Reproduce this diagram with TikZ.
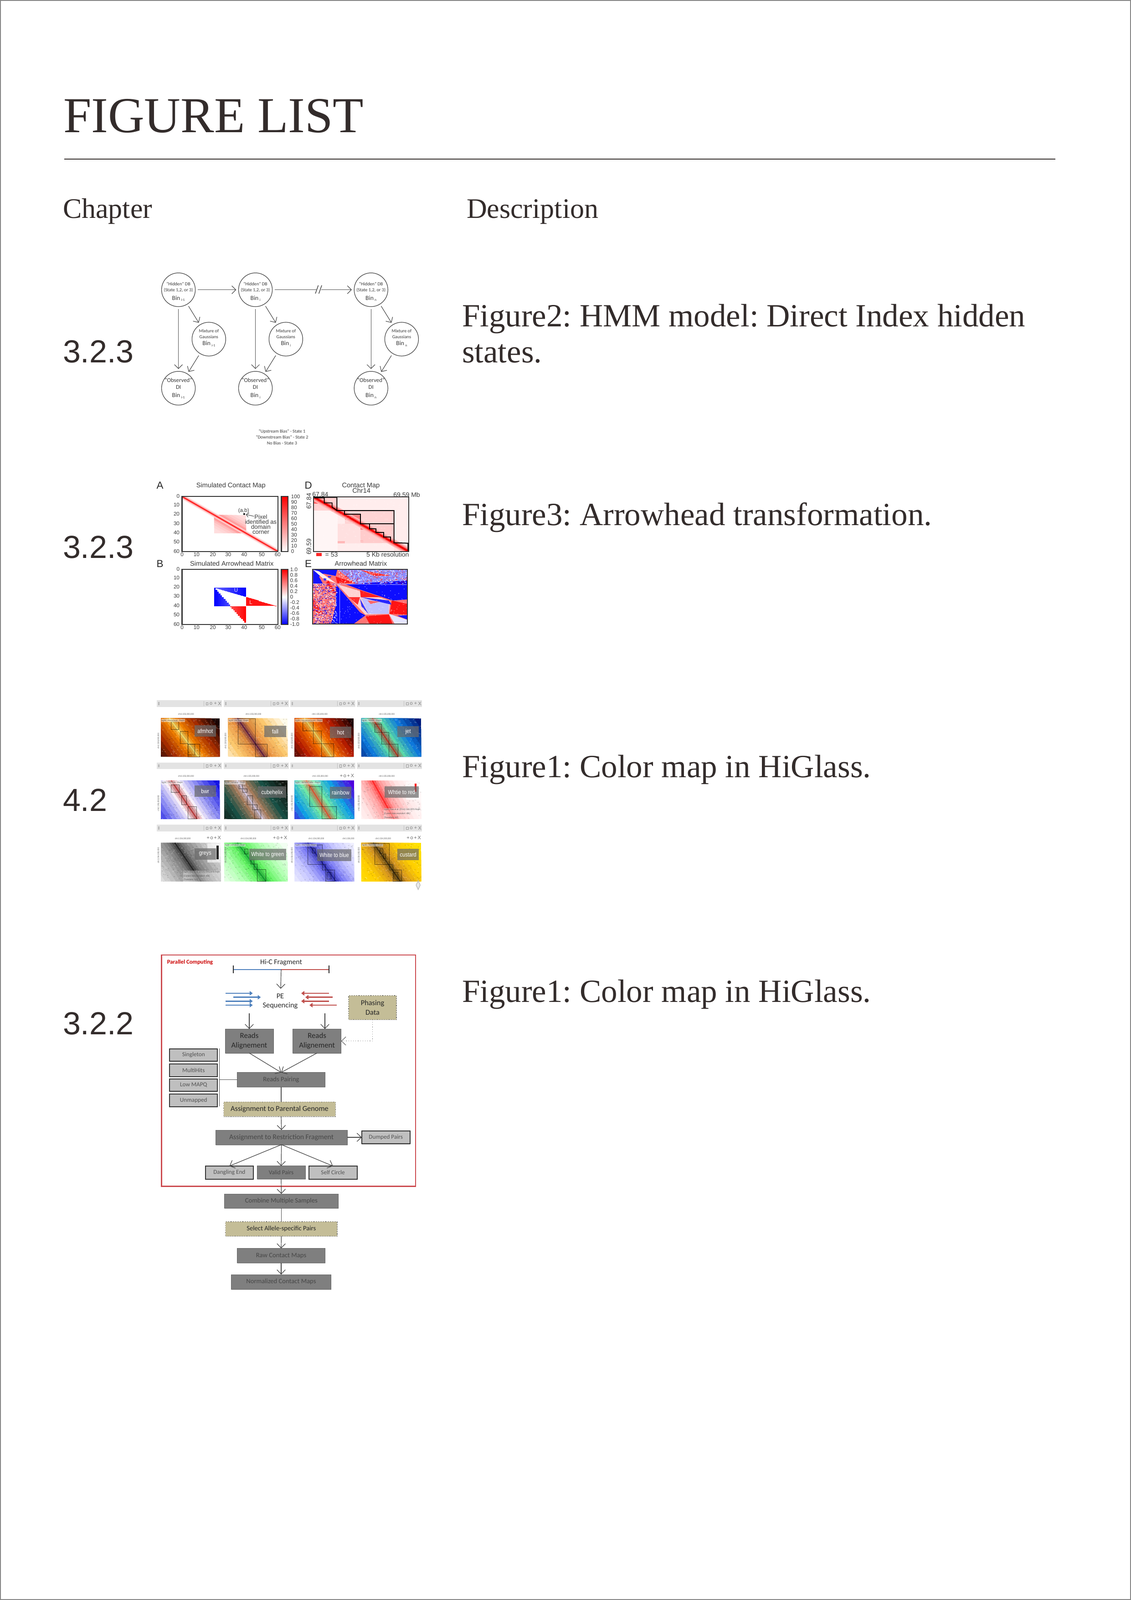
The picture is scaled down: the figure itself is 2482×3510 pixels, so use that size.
\documentclass[tikz,border=0pt]{standalone}
\usepackage{fontspec}
\usepackage{graphicx}
\setmainfont{Liberation Serif}
\newfontfamily\arial{Liberation Sans}
\newfontfamily\carl{Carlito}
\usetikzlibrary{arrows.meta,shadows,calc,shapes.geometric}
\definecolor{inkc}{HTML}{332C2B}
\definecolor{boxd}{HTML}{7F7F7F}
\definecolor{boxl}{HTML}{BFBFBF}
\definecolor{khaki}{HTML}{C4BD97}
\definecolor{redbox}{HTML}{CC4B50}
\definecolor{flowblue}{HTML}{4F81BD}
\definecolor{flowred}{HTML}{C0504D}
\definecolor{hfar}{HTML}{000000}
\definecolor{hmid}{HTML}{000000}
\definecolor{hnear}{HTML}{000000}
\definecolor{hdiag}{HTML}{000000}
\newcommand\myfs[2]{\fontsize{#1}{#2}\selectfont}
\newcommand\sbs[1]{\raisebox{-0.7pt}{\myfs{1.9}{2}#1}}
\newcommand\cnd[1]{\scalebox{.85}[1]{#1}}
\frenchspacing
\tikzset{
  pagetext/.style={anchor=base west,text=inkc,inner sep=0pt,outer sep=0pt},
  hcirc/.style={circle,draw=black!75,line width=.3pt,minimum size=18.5pt,inner sep=0pt,outer sep=1.3pt},
  htxt/.style={align=center,inner sep=0pt,text=black!78,font=\carl\myfs{2.55}{3.25}},
  harrow/.style={draw=black!70,line width=.3pt,-{Straight Barb[length=2.2pt,width=4.4pt]}},
  tick/.style={inner sep=0pt,text=black!78,font=\arial\myfs{2.9}{3.4}},
  dtick/.style={inner sep=0pt,text=black!78,font=\arial\myfs{3.5}{3.8}},
  ptitle/.style={inner sep=0pt,text=black!78,font=\arial\myfs{3.65}{4.2}},
  pletter/.style={inner sep=0pt,text=black!85,font=\arial\myfs{5.6}{6}},
  pframe/.style={draw=black!80,line width=.55pt},
  cmlab/.style={fill=black!58,fill opacity=.72,text opacity=1,text=white,inner sep=0pt,font=\arial\myfs{3.25}{3.7}},
  tiny/.style={inner sep=.2pt,text=black!65,font=\arial\myfs{1.3}{1.6}},
  fbase/.style={inner sep=0pt,outer sep=0pt,align=center,font=\carl\myfs{3.3}{5.1}},
  fdark/.style={fbase,fill=boxd,draw=black!60,line width=.25pt,text=black!72,drop shadow={shadow xshift=.15pt,shadow yshift=-.4pt,opacity=.35}},
  flight/.style={fbase,fill=boxl,draw=black!80,line width=.5pt,text=black!68,drop shadow={shadow xshift=.15pt,shadow yshift=-.4pt,opacity=.35}},
  fkhaki/.style={fbase,fill=khaki,draw=black!65,line width=.3pt,densely dotted,text=black!85,drop shadow={shadow xshift=.15pt,shadow yshift=-.4pt,opacity=.35}},
  farrow/.style={draw=black!75,line width=.3pt,-{Straight Barb[length=2.4pt,width=4.6pt]}},
  fline/.style={draw=black!70,line width=.3pt},
  fragb/.style={draw=flowblue,line width=.65pt,-{Triangle[length=1.7pt,width=2.4pt]}},
  fragr/.style={draw=flowred,line width=.65pt,-{Triangle[length=1.7pt,width=2.4pt]}},
}
% random speckle: x0 y0 x1 y1 count colour opacity w h
\newcommand\nz[9]{%
  \foreach \k in {1,...,#5}{
    \pgfmathsetmacro\nx{#1+rnd*(#3-#1)}
    \pgfmathsetmacro\ny{#2+rnd*(#4-#2)}
    \fill[#6,opacity=#7] (\nx,\ny) rectangle ++(#8,#9);}}
% HMM group of three circles
\newcommand\hmmcol[4]{%
  \node[hcirc] (h#1) at (#2,197) {};
  \node[htxt,yshift=-1.1pt] (ht#1) at (h#1) {“Hidden” DB\\(State 1,2, or 3)\\[1.4pt]{\myfs{3.4}{4}Bin\,\sbs{#4}}};
  \node[hcirc] (m#1) at (#3,522) {};
  \node[htxt,yshift=.6pt] (mt#1) at (m#1) {Mixture of\\Gaussians\\[.6pt]{\myfs{3.4}{4}Bin\,\sbs{#4}}};
  \node[hcirc] (o#1) at (#2,845) {};
  \node[htxt,font=\carl\myfs{3.2}{3.9}] (ot#1) at (o#1) {“Observed”\\DI\\[.6pt]{\myfs{3.4}{4}Bin\,\sbs{#4}}};
  \draw[harrow] (h#1) -- (o#1);
  \draw[harrow] (h#1) -- (m#1);
  \draw[harrow] (m#1) -- (o#1);
}
% colormap toolbar
\newcommand\tbar[3]{%
  \fill[black!11] (#1,#2) rectangle ++(360,44);
  \fill[black!28] (#1+8,#2+12) rectangle ++(7,20);
  \draw[black!25,line width=.15pt] (#1+260,#2+5) -- ++(0,34);
  \draw[black!40,line width=.25pt] (#1+273,#2+15) rectangle ++(11,16);
  \node[inner sep=0pt,text=black!50,font=\arial\myfs{2.7}{3}] (tb#3a) at (#1+300,#2+22) {o};
  \node[inner sep=0pt,text=black!50,font=\arial\myfs{2.7}{3}] (tb#3b) at (#1+324,#2+22) {+};
  \node[inner sep=0pt,text=black!50,font=\arial\myfs{2.7}{3}] (tb#3c) at (#1+347,#2+22) {X};
}
\newcommand\hmcol[4]{%
  \definecolor{hfar}{HTML}{#1}\definecolor{hmid}{HTML}{#2}\definecolor{hnear}{HTML}{#3}\definecolor{hdiag}{HTML}{#4}}
% x0 y0 x1 y1 xtop xbot
\newcommand\hm[6]{%
  \begin{scope}
  \clip (#1,#2) rectangle (#3,#4);
  \fill[hfar] (#1,#2) rectangle (#3,#4);
  \foreach \w/\cc in {230/hmid!25!hfar,197/hmid!50!hfar,166/hmid!75!hfar,138/hmid,112/hnear!25!hmid,88/hnear!50!hmid,66/hnear!75!hmid,46/hnear,30/hdiag!25!hnear,17/hdiag!50!hnear}{
    \fill[\cc] (#5-\w,#2) -- (#5+\w,#2) -- (#6+\w,#4) -- (#6-\w,#4) -- cycle;}
  \nz{#1}{#2}{#3}{#4}{130}{white}{.17}{7}{6}
  \nz{#1}{#2}{#3}{#4}{110}{black}{.10}{7}{6}
  \draw[hdiag,line width=.62pt,opacity=.9] (#5,#2) -- (#6,#4);
  \end{scope}}
\newcommand\dom[1]{%
  \foreach \a/\b/\c/\d in {#1}{
    \draw[black,line width=.2pt,draw opacity=.55,fill=black,fill opacity=.06] (\a,\b) rectangle (\c,\d);}}
\begin{document}
\begin{tikzpicture}[x=0.25pt,y=-0.25pt]
\useasboundingbox (0,0) rectangle (2482,3510);
\fill[white] (0,0) rectangle (2482,3510);
\draw[black!48,line width=.5pt] (1,1) rectangle (2481,3509);

% ---------- page text
\node[pagetext,font=\myfs{27.6}{30}] (title) at (139,291) {FIGURE LIST};
\coordinate (ruleL) at (141,349);
\coordinate (ruleR) at (2316,349);
\draw[inkc,line width=.55pt] (ruleL) -- (ruleR);
\node[pagetext,font=\myfs{15.5}{18}] (chap) at (138,479) {Chapter};
\node[pagetext,font=\myfs{15.5}{18}] (desc) at (1024,479) {Description};
\node[pagetext,font=\arial\myfs{17.5}{20}] (c1) at (138,795) {3.2.3};
\node[pagetext,font=\arial\myfs{17.5}{20}] (c2) at (138,1224) {3.2.3};
\node[pagetext,font=\arial\myfs{17.5}{20}] (c3) at (138,1779) {4.2};
\node[pagetext,font=\arial\myfs{17.5}{20}] (c4) at (138,2269) {3.2.2};
\node[pagetext,font=\myfs{17.75}{20}] (d1a) at (1014,716) {Figure2: HMM model: Direct Index hidden};
\node[pagetext,font=\myfs{17.75}{20}] (d1b) at (1014,795) {states.};
\node[pagetext,font=\myfs{17.75}{20}] (d2) at (1014,1152) {Figure3: Arrowhead transformation.};
\node[pagetext,font=\myfs{17.75}{20}] (d3) at (1014,1705) {Figure1: Color map in HiGlass.};
\node[pagetext,font=\myfs{17.75}{20}] (d4) at (1014,2198) {Figure1: Color map in HiGlass.};

% ---------- HMM figure
\begin{scope}[shift={(320,570)},x=0.0994pt,y=-0.08333pt]
  \hmmcol{1}{180}{348}{i-1}
  \hmmcol{2}{605}{773}{i}
  \hmmcol{3}{1243}{1412}{n}
  \draw[harrow] (h1) -- (h2);
  \coordinate (brk1) at (940,197);
  \coordinate (brk2) at (968,197);
  \draw[draw=black!70,line width=.3pt] (h2) -- (brk1);
  \draw[harrow] (brk2) -- (h3);
  \draw[draw=black!75,line width=.35pt] (936,222) -- (952,168);
  \draw[draw=black!75,line width=.35pt] (955,222) -- (971,168);
  \node[htxt,font=\carl\myfs{2.5}{3.25}] (hcap) at (752,1168) {“Upstream Bias” - State 1\\“Downstream Bias” - State 2\\No Bias - State 3};
\end{scope}

% ---------- Arrowhead figure
\begin{scope}[shift={(320,1040)},x=0.0994pt,y=-0.08333pt]
  \node[pletter] (la) at (78,73) {A};
  \node[pletter] (lb) at (78,590) {B};
  \node[pletter] (ld) at (897,73) {D};
  \node[pletter] (le) at (897,590) {E};
  \node[ptitle] (ta) at (470,77) {Simulated Contact Map};
  \node[ptitle] (tb) at (475,590) {Simulated Arrowhead Matrix};
  \node[ptitle] (td) at (1187,77) {Contact Map};
  \node[ptitle] (td2) at (1190,110) {Chr14};
  \node[ptitle] (te) at (1187,590) {Arrowhead Matrix};
  % panel A
  \begin{scope}[shift={(200,148)},x=0.878pt,y=-0.5028pt]
    \clip (0,0) rectangle (60,60);
    \fill[red!13!white] (20,20) rectangle (40,40);
    \foreach \w/\p in {14/16,11/20,8/26,5.5/36,3.5/50}{
      \fill[red!\p!white] (20,20) -- (20+\w,20) -- (40,40-\w) -- (40,40) -- (40-\w,40) -- (20,20+\w) -- cycle;}
    \foreach \w/\p in {3/12,2/28,1.2/50}{
      \fill[red!\p!white,opacity=.85] (0,0) -- (\w,0) -- (60,60-\w) -- (60,60) -- (60-\w,60) -- (0,\w) -- cycle;}
    \draw[red!90!white,line width=.5pt] (0,0) -- (60,60);
  \end{scope}
  \draw[pframe] (200,148) rectangle (730,510);
  \foreach \v/\px in {0/200,10/280,20/370,30/455,40/543,50/640,60/728}{
    \node[tick] (ax\v) at (\px,531) {\v};
    \node[tick] (bx\v) at (\px,1010) {\v};}
  \foreach \v/\py in {0/147,10/203,20/263,30/325,40/387,50/447,60/510}{
    \node[tick,anchor=east] (ay\v) at (188,\py) {\v};
    \node[tick,anchor=east] (by\v) at (188,\py+479) {\v};}
  \shade[bottom color=white,top color=red] (748,148) rectangle (785,510);
  \draw[pframe] (748,148) rectangle (785,510);
  \foreach \v [count=\i from 0] in {100,90,80,70,60,50,40,30,20,10,0}{
    \pgfmathsetmacro\py{150+36*\i}
    \node[tick,anchor=west] (al\i) at (800,\py) {\v};}
  \node[tick] (abtxt) at (540,242) {(a,b)};
  \node[circle,fill=black,inner sep=0pt,minimum size=1pt,outer sep=.4pt] (abdot) at (543,263) {};
  \node[tick,align=center,font=\arial\myfs{3.25}{2.75}] (pix) at (635,330) {Pixel\\identified as\\domain\\corner};
  \coordinate (pixa) at (597,278);
  \draw[draw=black!75,line width=.25pt,-{Straight Barb[length=1.4pt,width=2.4pt]}] (pixa) -- (abdot);
  % panel B
  \begin{scope}[shift={(200,628)},x=0.878pt,y=-0.5028pt]
    \foreach \i in {20,...,39}{
      \pgfmathtruncatemacro\p{60+2*(\i-20)}
      \fill[blue!\p!white] (\i,19.5) rectangle (\i+1.05,{19.5+(\i-19)/2});}
    \foreach \i in {20,...,29}{
      \pgfmathtruncatemacro\p{100-3*(\i-20)}
      \fill[blue!\p!white] (\i,{20+2*(\i-20)}) rectangle (\i+1.05,40);}
    \foreach \i in {30,...,39}{
      \pgfmathtruncatemacro\p{70+3*(\i-30)}
      \fill[red!\p!white] (\i,40) rectangle (\i+1.05,{40+1.9*(\i-29.5)});}
    \foreach \i in {40,...,58}{
      \fill[red!92!white] (\i,{30+(\i-40)*0.55}) rectangle (\i+1.05,39.6);}
  \end{scope}
  \draw[pframe] (200,628) rectangle (730,990);
  \node[inner sep=0pt,text=white!85!blue,font=\arial\myfs{2.9}{3}] (uu) at (498,763) {U};
  \node[inner sep=0pt,text=white!85!red,font=\arial\myfs{2.9}{3}] (ll) at (580,845) {L};
  \shade[top color=red,bottom color=blue,middle color=white] (748,628) rectangle (785,990);
  \draw[pframe] (748,628) rectangle (785,990);
  \foreach \v [count=\i from 0] in {1.0,0.8,0.6,0.4,0.2,0,-0.2,-0.4,-0.6,-0.8,-1.0}{
    \pgfmathsetmacro\py{630+36*\i}
    \node[tick,anchor=west] (bl\i) at (795,\py) {\v};}
  % panel D
  \begin{scope}
    \clip (925,150) rectangle (1452,510);
    \fill[red!7!white] (925,150) rectangle (1452,510);
    \fill[red!18!white] (925,150) rectangle (1055,240);
    \fill[red!4!white] (925,240) rectangle (1060,510);
    \fill[red!17!white] (1098,240) rectangle (1370,328);
    \fill[red!12!white] (1060,328) rectangle (1370,455);
    \fill[red!20!white] (1185,328) rectangle (1370,452);
    \fill[red!12!white] (1370,452) rectangle (1452,510);
    \fill[red!28!white] (1060,440) rectangle (1100,456);
    \fill[red!26!white] (1185,435) rectangle (1200,450);
    \fill[red!60!white] (925,155) rectangle (985,195);
    \fill[red!52!white] (985,192) rectangle (1030,218);
    \fill[red!50!white] (1098,265) rectangle (1185,300);
    \fill[red!50!white] (1185,328) rectangle (1235,365);
    \foreach \w/\p in {38/28,26/45,16/68,9/90}{
      \fill[red!\p!white] (925,150) -- (925+\w,150) -- (1452,510-\w*.7) -- (1452,510) -- (1452-\w,510) -- (925,150+\w*.7) -- cycle;}
    \draw[red!95!black,line width=.8pt] (925,150) -- (1452,510);
    \nz{925}{150}{1452}{510}{160}{white}{.18}{7}{6}
  \end{scope}
  \draw[black,line width=.45pt] (930,157) -- (985,157) -- (985,190) -- (1028,190) -- (1028,217) -- (1055,240);
  \draw[black,line width=.5pt] (925,153) -- (1055,153) -- (1055,240) -- (1370,240) -- (1370,452) -- (1447,455) -- (1447,505);
  \draw[black,line width=.45pt] (1097,240) -- (1097,265) -- (1185,265) -- (1185,328) -- (1235,328) -- (1235,360) -- (1270,360) -- (1270,385) -- (1312,385) -- (1312,415) -- (1350,415) -- (1350,440);
  \draw[black,line width=.45pt] (1185,328) -- (1370,328);
  \draw[pframe] (925,150) rectangle (1452,510);
  \node[dtick] (dtl) at (963,135) {67.84};
  \node[dtick] (dtr) at (1440,135) {69.59 Mb};
  \node[dtick,rotate=90] (dl1) at (900,178) {67.84};
  \node[dtick,rotate=90] (dl2) at (900,478) {69.59};
  \fill[red!85!white] (940,520) rectangle (970,541);
  \node[dtick] (d53) at (1025,531) {= 53};
  \node[dtick] (dres) at (1335,530) {5 Kb resolution};
\end{scope}

% panel E (own crop coordinates)
\begin{scope}[shift={(680,1230)},x=0.08333pt,y=-0.08333pt]
  \begin{scope}
    \clip (17,58) rectangle (643,418);
    \fill[white!45!red] (17,58) rectangle (643,418);
    \fill[white!55!blue] (185,58) -- (643,58) -- (643,150) -- (300,150) -- cycle;
    \fill[red!75!white] (330,60) -- (540,100) -- (420,100) -- cycle;
    \fill[blue!92!white] (22,60) -- (180,60) -- (170,100) -- (90,85) -- (60,105) -- (85,150) -- (22,150) -- cycle;
    \fill[white!92!red] (22,60) -- (60,70) -- (175,150) -- (90,120) -- cycle;
    \fill[red!80!white] (22,250) -- (90,355) -- (22,330) -- cycle;
    \fill[blue!95!white] (235,155) -- (643,130) -- (643,255) -- (545,262) -- (330,190) -- cycle;
    \fill[blue!95!white] (175,160) -- (330,340) -- (365,360) -- (285,418) -- (140,418) -- (170,300) -- cycle;
    \fill[white!82!red] (180,155) -- (330,200) -- (530,265) -- (520,350) -- (365,355) -- cycle;
    \fill[white!75!blue] (340,250) -- (520,270) -- (520,350) -- (385,350) -- cycle;
    \fill[red!90!white] (170,105) -- (300,145) -- (180,148) -- cycle;
    \fill[red!90!white] (105,150) -- (122,130) -- (175,215) -- (160,218) -- cycle;
    \fill[blue!80!white] (90,115) -- (108,118) -- (105,132) -- (92,130) -- cycle;
    \fill[blue!80!white] (118,100) -- (142,102) -- (135,112) -- (120,110) -- cycle;
    \fill[red!88!white] (330,195) -- (470,240) -- (335,240) -- cycle;
    \fill[red!82!white] (255,240) -- (330,240) -- (315,290) -- cycle;
    \fill[blue!85!white] (335,240) -- (520,262) -- (540,290) -- (380,252) -- cycle;
    \fill[blue!80!white] (330,250) -- (385,350) -- (340,300) -- cycle;
    \fill[red!60!white] (380,262) -- (460,270) -- (400,285) -- cycle;
    \fill[red!92!white] (540,262) -- (643,285) -- (643,355) -- (525,350) -- cycle;
    \fill[red!92!white] (365,365) -- (520,355) -- (545,418) -- (395,418) -- cycle;
    \fill[white!90!blue] (520,350) -- (643,390) -- (643,418) -- (560,418) -- cycle;
    \fill[blue!92!white] (575,362) -- (643,358) -- (643,388) -- cycle;
    \nz{17}{150}{175}{418}{300}{blue}{.5}{7}{6}
    \nz{17}{150}{175}{418}{300}{white}{.55}{7}{6}
    \nz{185}{58}{643}{150}{260}{white}{.5}{7}{6}
    \nz{185}{58}{643}{150}{180}{red}{.4}{7}{6}
    \nz{175}{155}{640}{418}{120}{white}{.3}{6}{5}
    \draw[white!70!blue,line width=.25pt] (195,150) -- (195,418);
    \draw[white!70!blue,line width=.2pt] (22,152) -- (640,158);
  \end{scope}
  \draw[pframe] (17,58) rectangle (643,418);
\end{scope}

% ---------- colour maps
\begin{scope}[shift={(330,1520)},x=0.0994pt,y=-0.08333pt]
  \pgfmathsetseed{17}
  \foreach \r/\yy in {1/48,2/458,3/868}{
    \foreach \c/\xx in {1/35,2/404,3/771,4/1140}{
      \tbar{\xx}{\yy}{\r\c}}}
  \hmcol{1A0300}{A42C00}{EE7E00}{F6EE80}
  \hm{58}{167}{383}{420}{105}{265}
  \dom{115/190/158/242,165/253/207/333,208/337/272/420,208/337/245/410}
  \hmcol{FFFBEA}{FBC86E}{E89040}{5C1C48}
  \hm{428}{167}{758}{420}{480}{630}
  \dom{483/168/580/337,580/337/645/420}
  \hmcol{200000}{B41C00}{F26E00}{EFE070}
  \hm{796}{167}{1122}{420}{850}{1000}
  \dom{840/190/900/250,900/250/943/333,943/333/1012/420}
  \hmcol{001C7C}{0E78DA}{58D8A8}{C03020}
  \hm{1164}{167}{1495}{420}{1225}{1368}
  \dom{1238/205/1276/258,1276/258/1316/337,1316/337/1366/420}
  \hmcol{1414E4}{8A8AF2}{F8F0F8}{C03434}
  \hm{58}{577}{383}{830}{115}{258}
  \dom{115/605/160/655,172/675/200/735,208/747/255/830}
  \hmcol{101610}{184F44}{A67C5C}{D8D0F0}
  \hm{408}{577}{758}{830}{478}{620}
  \dom{490/600/510/630,510/630/535/655,533/675/565/735,565/735/590/770,575/770/610/830}
  \hmcol{5000E0}{10A0E4}{70E8A4}{F05030}
  \hm{796}{577}{1125}{830}{860}{995}
  \dom{880/615/947/747,947/747/1028/830}
  \hmcol{FFFFFF}{FFE4E4}{FF9C9C}{FF2020}
  \hm{1164}{577}{1495}{830}{1225}{1345}
  \hmcol{EAEAEA}{B4B4B4}{787878}{202020}
  \hm{58}{987}{388}{1241}{135}{280}
  \hmcol{F2FFF2}{B4FFB4}{62F262}{10A030}
  \hm{408}{987}{758}{1241}{480}{638}
  \dom{520/1027/540/1060,555/1100/572/1125,572/1125/590/1162,590/1162/637/1241}
  \hmcol{F0F0FF}{C4C4FF}{7474F2}{2020A0}
  \hm{796}{987}{1125}{1241}{868}{1025}
  \dom{868/1000/950/1128,895/1025/912/1055,950/1128/968/1165,968/1165/1018/1241,975/1180/998/1225}
  \hmcol{FFE200}{FFCE00}{D49420}{403010}
  \hm{1164}{987}{1495}{1241}{1230}{1380}
  \dom{1238/990/1318/1130,1265/1025/1283/1055,1285/1060/1300/1090,1318/1130/1338/1165,1338/1165/1386/1241,1345/1180/1367/1225}
  % legends
  \fill[white,opacity=.55] (1410,585) rectangle (1482,705);
  \fill[red] (1458,597) rectangle (1470,650);
  \fill[white,opacity=.6] (315,990) rectangle (388,1115);
  \fill[black!85] (365,1005) rectangle (377,1095);
  % panel tags
  \foreach \id/\px/\py/\txt in {
     t1/58/182/{hg38 | Arrowhead - RepH},
     t2/428/182/{hg38 | HiCSeg - RepH},
     t3/796/182/{hg38 | InsulationScore - RepH},
     t4/1164/182/{hg38 | TADBit - RepH},
     t5/58/592/{hg38 | TADTree - RepH},
     t6/408/592/{hg38 | armatus - RepH},
     t7/796/592/{hg38 | domainCaller - RepH},
     t8/408/1002/{hg38 | armatus - RepH},
     t9/796/1002/{hg38 | TADTree - RepH},
     t10/1164/1002/{hg38 | TADTree - RepH}}{
    \node[tiny,anchor=west,fill=white,fill opacity=.5,text opacity=1] (\id) at (\px,\py) {\cnd{\txt}};}
  \node[tiny,anchor=north west,align=left,fill=white,fill opacity=.4,text opacity=1,font=\arial\myfs{1.3}{2.2}] (rao1) at (1286,757) {\cnd{hg38 | Rao et al. (2014) GM12878 RepH}\\\cnd{{[}Current data resolution: 40k{]}}\\\cnd{{[}Transform: KR{]}}};
  \node[tiny,anchor=north west,align=left,fill=white,fill opacity=.4,text opacity=1,font=\arial\myfs{1.3}{2.2}] (rao2) at (180,1167) {\cnd{hg38 | Rao et al. (2014) GM12878 RepH}\\\cnd{{[}Current data resolution: 40k{]}}\\\cnd{{[}Transform: KR{]}}};
  % axis labels
  \foreach \id/\px/\py/\txt in {
     x1/197/140/{chr1:155,000,000},x2/569/140/{chr1:155,000,000},x3/935/140/{chr1:155,000,000},x4/1305/140/{chr1:155,000,000},
     x5/197/550/{chr1:155,000,000},x6/558/550/{chr1:155,000,000},x7/937/550/{chr1:155,000,000},x8/1305/550/{chr1:155,000,000},
     x9/179/960/{chr1:154,000,000},x10/541/960/{chr1:154,000,000},x11/916/960/{chr1:154,000,000},x12/1093/960/{chr1:156,000},x13/1285/960/{chr1:154,000,000}}{
    \node[tiny] (\id) at (\px,\py) {\cnd{\txt}};}
  \foreach \id/\px/\py/\txt in {
     y1/45/316/{chr1:155,000,000},y2/415/316/{chr1:155,000,000},y3/782/316/{chr1:155,000,000},y4/1151/316/{chr1:155,000,000},
     y5/45/726/{chr1:155,000,000},y6/415/726/{chr1:155,000,000},y7/782/726/{chr1:155,000,000},y8/1151/726/{chr1:155,000,000},
     y9/45/1070/{chr1:154,000,000},y10/415/1070/{chr1:154,000,000},y11/782/1070/{chr1:154,000,000},y12/1151/1070/{chr1:154,000,000}}{
    \node[tiny,rotate=90] (\id) at (\px,\py) {\cnd{\txt}};}
  % floating icon boxes
  \foreach \id/\px/\py in {f1/1045/525,f2/310/935,f3/676/935,f4/1414/935}{
    \fill[white] (\px,\py) rectangle ++(80,40);
    \node[inner sep=0pt,text=black!60,font=\arial\myfs{2.7}{3}] (\id) at (\px+40,\py+20) {+\,o\,+\,X};}
  % colour map names
  \foreach \id/\xa/\ya/\xb/\yb/\txt in {
     l1/243/213/362/288/afmhot,l2/630/217/749/292/fall,l3/990/222/1110/297/hot,l4/1364/218/1482/292/jet,
     l5/243/610/362/685/bwr,l6/594/615/749/690/cubehelix,l7/990/619/1110/695/rainbow,l8/1292/615/1482/690/{Whtie to red},
     l9/243/1022/362/1098/greys,l10/545/1026/749/1102/{White to green},l11/920/1030/1110/1106/{White to blue},l12/1364/1026/1482/1102/custard}{
    \pgfmathsetmacro\lw{(\xb-\xa)*0.0994}
    \pgfmathsetmacro\lh{(\yb-\ya)*0.08333}
    \node[cmlab,minimum width=\lw pt,minimum height=\lh pt] (\id) at ({(\xa+\xb)/2},{(\ya+\yb)/2}) {\cnd{\txt}};}
  \node[diamond,draw=black!25,fill=black!8,line width=.4pt,minimum width=2.4pt,minimum height=5pt,inner sep=0pt] (logo) at (1478,1265) {};
\end{scope}

% ---------- flow chart
\draw[redbox,line width=.7pt] (354.2,2095) rectangle (912,2602.3);
\node[inner sep=0pt,anchor=west,text=red!80!black,font=\carl\bfseries\myfs{3.2}{4}] (par) at (366,2110.7) {Parallel Computing};
\node[fbase,text=black!85,font=\carl\myfs{3.95}{4.5}] (hic) at (617,2111.7) {Hi-C Fragment};
\coordinate (fragL) at (512,2126.7);
\coordinate (fragM) at (617,2126.7);
\coordinate (fragR) at (722,2126.7);
\draw[flowblue,line width=.6pt] (fragL) -- (fragM);
\draw[flowred,line width=.6pt] (fragM) -- (fragR);
\draw[black!85,line width=.35pt] (512,2118) -- (512,2135);
\draw[black!85,line width=.35pt] (722,2118) -- (722,2135);
\coordinate (peTop) at (616,2169);
\draw[farrow] (fragM) -- (peTop);
\foreach \ya/\xa/\xb [count=\i] in {2179/494.6/554.6,2187.7/512.3/572.3,2196.3/494.6/554.6,2205/494.6/554.6}{
  \coordinate (ba\i) at (\xa,\ya); \coordinate (bb\i) at (\xb,\ya);
  \draw[fragb] (ba\i) -- (bb\i);}
\foreach \ya/\xa/\xb [count=\i] in {2179/722/661,2187.7/730/670,2196.3/722/661,2205/739/679}{
  \coordinate (ra\i) at (\xa,\ya); \coordinate (rb\i) at (\xb,\ya);
  \draw[fragr] (ra\i) -- (rb\i);}
\node[fbase,text=black!85,font=\carl\myfs{4.1}{5.15}] (pe) at (615,2196.5) {PE\\Sequencing};
\node[fkhaki,minimum width=26.25pt,minimum height=13.2pt,font=\carl\myfs{4.1}{5.15}] (phase) at (817.5,2210.3) {Phasing\\Data};
\node[fdark,minimum width=26.5pt,minimum height=13.2pt,text=black!85,font=\carl\myfs{4.2}{5.15}] (raL) at (547,2283.7) {Reads\\Alignement};
\node[fdark,minimum width=26.5pt,minimum height=13.2pt,text=black!85,font=\carl\myfs{4.2}{5.15}] (raR) at (695.6,2283.7) {Reads\\Alignement};
\coordinate (seqL) at (547,2222.7);
\coordinate (seqR) at (713,2222.7);
\draw[farrow] (seqL) -- (raL.north);
\draw[farrow] (seqR) -- (seqR |- raR.north);
\draw[farrow,densely dotted,draw=black!60] (phase.south) |- (raR.east);
\node[fdark,minimum width=48.1pt,minimum height=8pt,font=\carl\myfs{3.65}{4.5}] (rp) at (617,2368.7) {Reads Pairing};
\draw[farrow] (raL.south) -- (rp.north);
\draw[farrow] (raR.south) -- (rp.north);
\foreach \id/\yy/\txt in {sg/2314.5/Singleton,mh/2347.8/MultiHits,lm/2380.5/Low MAPQ,um/2413.8/Unmapped}{
  \node[flight,minimum width=26.25pt,minimum height=6.9pt] (\id) at (424.8,\yy) {\txt};}
\coordinate (brTop) at (481.5,2300);
\coordinate (brBot) at (481.5,2426.7);
\coordinate (brMid) at (481.5,2368.7);
\draw[fline] (brTop) -- (brBot);
\draw[fline] (brMid) -- (rp.west);
\node[fkhaki,minimum width=61.35pt,minimum height=7.95pt,font=\carl\myfs{4.1}{5}] (apg) at (613.5,2433.2) {Assignment to Parental Genome};
\node[fdark,minimum width=72.3pt,minimum height=8pt,font=\carl\myfs{3.95}{5}] (arf) at (617.6,2495) {Assignment to Restriction Fragment};
\node[flight,minimum width=26.45pt,minimum height=7pt] (dp) at (846.7,2495) {Dumped Pairs};
\draw[fline] (rp.south) -- (rp.south |- apg.north);
\draw[farrow] (rp.south |- apg.south) -- (arf.north);
\draw[farrow] (arf.east) -- (dp.west);
\node[flight,minimum width=26.3pt,minimum height=7.17pt] (de) at (503.4,2572.3) {Dangling End};
\node[fdark,minimum width=26.5pt,minimum height=7.17pt] (vp) at (617,2572.3) {Valid Pairs};
\node[flight,minimum width=26.45pt,minimum height=7.17pt] (sc) at (730.6,2572.3) {Self Circle};
\draw[farrow] (arf.south) -- (de.north);
\draw[farrow] (arf.south) -- (vp.north);
\draw[farrow] (arf.south) -- (sc.north);
\node[fdark,minimum width=62.5pt,minimum height=7.95pt,font=\carl\myfs{3.65}{4.5}] (cms) at (617.3,2634.9) {Combine Multiple Samples};
\draw[farrow] (vp.south) -- (cms.north);
\node[fkhaki,minimum width=61.35pt,minimum height=7.95pt,font=\carl\myfs{3.65}{4.5}] (sel) at (617.3,2695.9) {Select Allele-specific Pairs};
\draw[fline] (cms.south) -- (sel.north);
\node[fdark,minimum width=48.1pt,minimum height=8pt,font=\carl\myfs{3.65}{4.5}] (raw) at (617,2754.7) {Raw Contact Maps};
\draw[farrow] (sel.south) -- (raw.north);
\node[fdark,minimum width=54.8pt,minimum height=8pt,font=\carl\myfs{3.65}{4.5}] (nrm) at (617,2812) {Normalized Contact Maps};
\draw[farrow] (raw.south) -- (nrm.north);
\end{tikzpicture}
\end{document}
